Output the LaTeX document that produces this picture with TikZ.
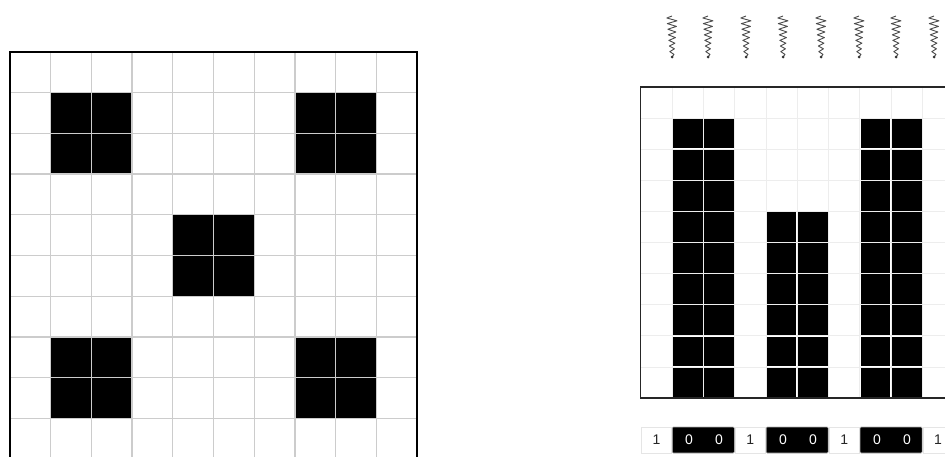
\documentclass[tikz,border=0pt]{standalone}
\usepackage{fontspec}
\setmainfont{Liberation Sans}
\begin{document}
\begin{tikzpicture}[x=1pt,y=-1pt,
  gridL/.style={draw=black!20,line width=1.3pt},
  gridR/.style={draw=black!7,line width=0.8pt},
  spring/.style={draw=black!70,line width=0.9pt,line join=round},
  onebox/.style={draw=black!10,line width=0.6pt,minimum width=30pt,minimum height=26pt,inner sep=0pt,font=\fontsize{14}{14}\selectfont,text=black!85},
  zbox/.style={fill=black,draw=black!30,line width=0.6pt,rounded corners=1pt,minimum width=62pt,minimum height=26pt,inner sep=0pt},
  zero/.style={text=white,font=\fontsize{14}{14}\selectfont,inner sep=0pt}]
\useasboundingbox (0,0) rectangle (945,456);
\clip (0,0) rectangle (945,456);
\fill[white] (0,0) rectangle (945,456);
% ---------- left grid ----------
\foreach \c/\r in {1/1,2/1,7/1,8/1,1/2,2/2,7/2,8/2,4/4,5/4,4/5,5/5,1/7,2/7,7/7,8/7,1/8,2/8,7/8,8/8}
  \fill[black] ({10+\c*40.7},{52+\r*40.7}) rectangle ++(40.7,40.7);
\foreach \i in {1,...,9}{
  \draw[gridL] ({10+\i*40.7},52) -- ({10+\i*40.7},460);
  \draw[gridL] (10,{52+\i*40.7}) -- (417,{52+\i*40.7});
}
\draw[line width=1.6pt] (10,460) -- (10,52) -- (417,52) -- (417,460);
% ---------- right grid ----------
\foreach \i in {1,...,9}{
  \draw[gridR] ({640.7+\i*31.3},87) -- ({640.7+\i*31.3},398);
  \draw[gridR] (640.7,{87+\i*31.1}) -- (954,{87+\i*31.1});
}
\foreach \c in {1,2,7,8}{
  \foreach \r in {1,...,9}
    \fill[black] ({640.7+\c*31.3+0.75},{87+\r*31.1+0.75}) rectangle ++(29.8,29.6);
}
\foreach \c in {4,5}{
  \foreach \r in {4,...,9}
    \fill[black] ({640.7+\c*31.3+0.75},{87+\r*31.1+0.75}) rectangle ++(29.8,29.6);
}
\draw[line width=1.1pt,draw=black!85] (640.7,87) rectangle (954,398);
% ---------- springs ----------
\foreach \cx in {672,708,746,783,821,859,896,934}{
  \draw[spring] (\cx,16) \foreach \k in {0,...,13}{ -- ({\cx+(mod(\k,2)*2-1)*(5.2-0.25*\k)},{18+\k*2.8}) } -- (\cx,57);
  \fill[black!80] (\cx,57) circle (1.5);
}
% ---------- bit labels ----------
\node[onebox] (b1) at (656.4,440) {1};
\node[zbox] (z1) at (703.3,440) {};
\node[zero] (z1a) at (689,440) {0};
\node[zero] (z1b) at (719,440) {0};
\node[onebox] (b2) at (750.3,440) {1};
\node[zbox] (z2) at (797.2,440) {};
\node[zero] (z2a) at (783,440) {0};
\node[zero] (z2b) at (813,440) {0};
\node[onebox] (b3) at (844.2,440) {1};
\node[zbox] (z3) at (891.1,440) {};
\node[zero] (z3a) at (877,440) {0};
\node[zero] (z3b) at (907,440) {0};
\node[onebox] (b4) at (938.1,440) {1};
\end{tikzpicture}
\end{document}
